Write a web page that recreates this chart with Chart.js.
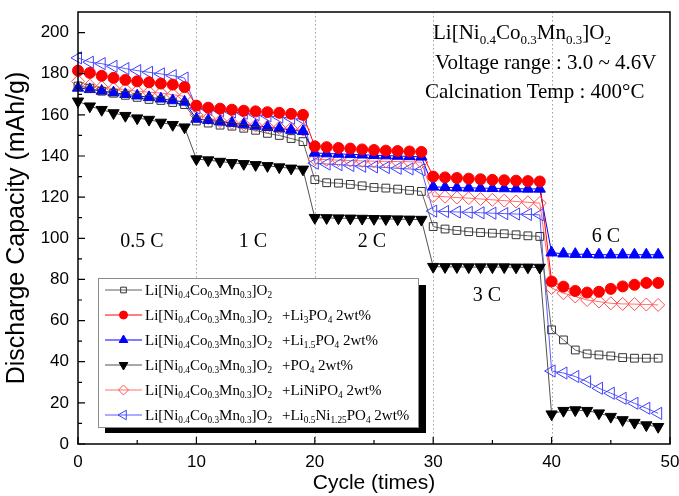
<!DOCTYPE html>
<html>
<head>
<meta charset="utf-8">
<script src="https://cdn.jsdelivr.net/npm/chart.js@4.4.0/dist/chart.umd.min.js"></script>
<style>
  body { margin: 0; background: #fff; }
  #wrap { position: relative; width: 679px; height: 496px; }
  #wrap canvas { position: absolute; left: 0; top: 0; }
  .note { position: absolute; font-family: "Liberation Serif", "Times New Roman", serif; color: #000; white-space: nowrap; }
  .note sub { font-size: 0.62em; vertical-align: -0.35em; line-height: 0; }
  .info { font-size: 21px; }
  .rate { font-size: 20px; transform: translate(-50%, -50%); }
  .leg { font-size: 15px; height: 20px; line-height: 20px; left: 145px; }
  .leg .pre { display: inline-block; width: 137px; }
</style>
</head>
<body>
<div id="wrap">
  <canvas id="chart" width="679" height="496"></canvas>

  <div class="note info" style="left:433px; top:20px;">Li[Ni<sub>0.4</sub>Co<sub>0.3</sub>Mn<sub>0.3</sub>]O<sub>2</sub></div>
  <div class="note info" style="left:435px; top:50px;">Voltage range : 3.0 ~ 4.6V</div>
  <div class="note info" style="left:425px; top:79px;">Calcination Temp : 400°C</div>

  <div class="note rate" style="left:142px; top:240px;">0.5 C</div>
  <div class="note rate" style="left:253px; top:240px;">1 C</div>
  <div class="note rate" style="left:372px; top:240px;">2 C</div>
  <div class="note rate" style="left:487px; top:294px;">3 C</div>
  <div class="note rate" style="left:606px; top:235px;">6 C</div>

  <div id="legend"></div>
</div>

<script>
// cycle number (x) for every point
const cycles = [
  0, 1, 2, 3, 4, 5, 6, 7, 8, 9,
  10, 11, 12, 13, 14, 15, 16, 17, 18, 19,
  20, 21, 22, 23, 24, 25, 26, 27, 28, 29,
  30, 31, 32, 33, 34, 35, 36, 37, 38, 39,
  40, 41, 42, 43, 44, 45, 46, 47, 48, 49
];

// discharge capacity, mAh/g
const pristine = [
  174, 173, 171.5, 170.5, 169.5, 168.5, 167.5, 167, 166, 165,
  157, 156, 155, 154.5, 153.5, 152.5, 151, 150, 148.5, 147,
  128.5, 127, 126.8, 126.2, 125.5, 124.7, 124.4, 123.9, 123.3, 122.8,
  105.7, 104.5, 103.8, 103.2, 102.8, 102.5, 102.2, 101.7, 101.2, 100.9,
  55.5, 50.6, 45.7, 43.8, 43.3, 42.8, 42, 41.7, 41.7, 41.7
];
const li3po4 = [
  181.5, 180.4, 179, 178, 177, 176.3, 175.8, 175.2, 174.7, 173.5,
  164.5, 163.5, 163, 162.5, 162, 161.7, 161.3, 161, 160.5, 160,
  144.7, 144.3, 143.9, 143.6, 143.2, 142.9, 142.6, 142.4, 142.2, 142,
  130, 129.6, 129.3, 129, 128.7, 128.4, 128.2, 128, 127.8, 127.6,
  79, 76.5, 74.4, 73.6, 74, 75.4, 76.6, 77.4, 78.3, 78.3
];
const li15po4 = [
  173.1, 172.4, 171.6, 170.8, 170, 169.3, 168.5, 167.8, 167, 166.3,
  158, 157.4, 156.7, 156, 155.3, 154.6, 154, 153.3, 152.6, 152,
  141.5, 141.2, 141, 140.8, 140.6, 140.4, 140.2, 140, 139.8, 139.6,
  125, 124.8, 124.6, 124.5, 124.4, 124.3, 124.2, 124.1, 124, 124,
  93, 92.5, 92.3, 92.2, 92, 92, 92, 92, 92, 92
];
const po4 = [
  166.6, 164.2, 162.5, 160.9, 159.6, 158.4, 157.7, 156.3, 155.2, 154,
  138.5, 138, 137.3, 136.7, 136.2, 135.7, 135.2, 134.6, 134, 133.5,
  110, 109.9, 109.8, 109.7, 109.6, 109.5, 109.4, 109.3, 109.2, 109.1,
  86.2, 86.1, 86.1, 86, 86, 86, 86, 85.9, 85.9, 85.8,
  14.5, 16.2, 16.5, 16.2, 15, 13.3, 11.7, 10.4, 9.2, 8.4
];
const linipo4 = [
  176.3, 174.2, 173.5, 172.7, 172.3, 171.4, 171, 170.6, 169.8, 169,
  160, 158.4, 157, 156.1, 155.3, 154.8, 154.2, 153.7, 153.3, 152.8,
  138.5, 138.2, 138, 137.8, 137.6, 137.5, 137.4, 137.3, 137.2, 137,
  120.5, 120.2, 119.8, 119.5, 119.1, 118.7, 118.3, 117.9, 117.5, 117.1,
  75.8, 73.3, 71.7, 70, 69.2, 68.4, 68.1, 68, 67.8, 67.6
];
const li05ni125po4 = [
  187.7, 185.6, 184.9, 183.6, 182.5, 181.5, 180.7, 179.9, 179.1, 177.9,
  163.3, 162.7, 162, 161.4, 160.8, 160.1, 159.5, 158.9, 158.3, 157.7,
  136.5, 136.1, 135.8, 135.4, 135, 134.7, 134.4, 134, 133.7, 133.3,
  113.2, 113, 112.8, 112.6, 112.4, 112.2, 112, 111.8, 111.6, 111.4,
  35.5, 34.5, 32.8, 30.3, 27.1, 24.7, 22.2, 19.8, 17.4, 14.9
];

const rateBreaks = [10, 20, 30, 40];
const xTicks = [0, 10, 20, 30, 40, 50];
const yTicks = [0, 20, 40, 60, 80, 100, 120, 140, 160, 180, 200];

const base = 'Li[Ni<sub>0.4</sub>Co<sub>0.3</sub>Mn<sub>0.3</sub>]O<sub>2</sub>';
const additives = [
  '',
  '+Li<sub>3</sub>PO<sub>4</sub> 2wt%',
  '+Li<sub>1.5</sub>PO<sub>4</sub> 2wt%',
  '+PO<sub>4</sub> 2wt%',
  '+LiNiPO<sub>4</sub> 2wt%',
  '+Li<sub>0.5</sub>Ni<sub>1.25</sub>PO<sub>4</sub> 2wt%'
];

const series = [
  { values: pristine, line: '#606060', mark: '#333', fill: 'transparent', style: 'rect', r: 5.5, rot: 0 },
  { values: li3po4, line: '#ff0000', mark: '#ff0000', fill: '#ff0000', style: 'circle', r: 5.5, rot: 0 },
  { values: li15po4, line: '#0000ff', mark: '#0000ff', fill: '#0000ff', style: 'triangle', r: 6.5, rot: 0 },
  { values: po4, line: '#505050', mark: '#000', fill: '#000', style: 'triangle', r: 6.5, rot: 180 },
  { values: linipo4, line: '#ff7070', mark: '#ff5050', fill: 'transparent', style: 'rectRot', r: 6.5, rot: 0 },
  { values: li05ni125po4, line: '#5a5aff', mark: '#4040ff', fill: 'transparent', style: 'triangle', r: 7, rot: 270 }
];

function drawMarker(ctx, s, x, y, r) {
  ctx.save();
  ctx.translate(x, y);
  ctx.rotate(s.rot * Math.PI / 180);
  ctx.beginPath();
  if (s.style === 'circle') {
    ctx.arc(0, 0, r, 0, Math.PI * 2);
  } else if (s.style === 'rect') {
    const h = r * Math.SQRT1_2;
    ctx.rect(-h, -h, 2 * h, 2 * h);
  } else if (s.style === 'rectRot') {
    ctx.moveTo(0, -r); ctx.lineTo(r, 0); ctx.lineTo(0, r); ctx.lineTo(-r, 0); ctx.closePath();
  } else {
    ctx.moveTo(0, -r);
    ctx.lineTo(r * Math.sin(Math.PI / 3), r / 2);
    ctx.lineTo(-r * Math.sin(Math.PI / 3), r / 2);
    ctx.closePath();
  }
  ctx.fillStyle = s.fill;
  ctx.strokeStyle = s.mark;
  ctx.lineWidth = 1;
  ctx.fill();
  ctx.stroke();
  ctx.restore();
}

// legend text
const legendEl = document.getElementById('legend');
additives.forEach((a, i) => {
  const d = document.createElement('div');
  d.className = 'note leg';
  d.style.top = (280 + i * 25) + 'px';
  d.innerHTML = '<span class="pre">' + base + '</span>' + a;
  legendEl.appendChild(d);
});

const framePlugin = {
  id: 'frame',
  beforeDatasetsDraw(chart) {
    const { ctx, chartArea: a, scales: { x } } = chart;
    ctx.save();
    ctx.strokeStyle = '#a0a0a0';
    ctx.lineWidth = 1;
    ctx.setLineDash([1.5, 2.5]);
    rateBreaks.forEach(v => {
      const px = Math.round(x.getPixelForValue(v)) + 0.5;
      ctx.beginPath(); ctx.moveTo(px, a.top); ctx.lineTo(px, a.bottom); ctx.stroke();
    });
    ctx.restore();
  },
  afterDraw(chart) {
    const { ctx, chartArea: a, scales: { x, y } } = chart;
    ctx.save();
    ctx.strokeStyle = '#000';
    ctx.lineWidth = 1.5;
    ctx.strokeRect(a.left, a.top, a.right - a.left, a.bottom - a.top);

    // inward ticks
    ctx.lineWidth = 1.2;
    ctx.beginPath();
    for (let v = 0; v <= 50; v += 5) {
      const px = x.getPixelForValue(v);
      ctx.moveTo(px, a.bottom); ctx.lineTo(px, a.bottom - (v % 10 === 0 ? 7 : 4));
    }
    for (let v = 0; v <= 200; v += 10) {
      const py = y.getPixelForValue(v);
      ctx.moveTo(a.left, py); ctx.lineTo(a.left + (v % 20 === 0 ? 7 : 4), py);
    }
    ctx.stroke();

    // legend box with shadow
    ctx.fillStyle = '#000';
    ctx.fillRect(105, 285, 321, 148);
    ctx.fillStyle = '#fff';
    ctx.fillRect(98, 278, 320, 149);
    ctx.strokeStyle = '#8a8a8a';
    ctx.lineWidth = 1;
    ctx.strokeRect(98.5, 278.5, 320, 149);

    series.forEach((s, i) => {
      const ly = 290 + i * 25;
      ctx.strokeStyle = s.line;
      ctx.lineWidth = 1;
      ctx.beginPath(); ctx.moveTo(105, ly); ctx.lineTo(142, ly); ctx.stroke();
      drawMarker(ctx, s, 123.5, ly, s.r - 1.5);
    });
    ctx.restore();
  }
};

const markerPlugin = {
  id: 'markers',
  afterDatasetsDraw(chart) {
    const ctx = chart.ctx;
    for (let i = series.length - 1; i >= 0; i--) {
      const meta = chart.getDatasetMeta(i);
      meta.data.forEach(pt => drawMarker(ctx, series[i], pt.x, pt.y, series[i].r));
    }
  }
};

const tickFont = { family: '"Liberation Sans", Arial, sans-serif', size: 17 };

new Chart(document.getElementById('chart'), {
  type: 'line',
  data: {
    datasets: series.map(s => ({
      data: cycles.map((c, i) => ({ x: c, y: s.values[i] })),
      borderColor: s.line,
      borderWidth: 1,
      pointRadius: 0,
      tension: 0,
      fill: false
    }))
  },
  options: {
    responsive: false,
    animation: false,
    layout: { padding: { top: 12, right: 9, left: 0, bottom: 0 } },
    plugins: { legend: { display: false }, tooltip: { enabled: false } },
    scales: {
      x: {
        type: 'linear',
        min: 0, max: 50,
        afterFit: s => { s.height = 52; s.paddingLeft = 0; s.paddingRight = 0; },
        afterBuildTicks: s => { s.ticks = xTicks.map(v => ({ value: v })); },
        grid: { display: false, drawTicks: false },
        border: { display: false },
        ticks: { font: tickFont, color: '#000', padding: 8, maxRotation: 0 },
        title: { display: true, text: 'Cycle (times)', color: '#000',
                 font: { family: '"Liberation Sans", Arial, sans-serif', size: 21 }, padding: { top: 0, bottom: 0 } }
      },
      y: {
        min: 0, max: 210,
        afterFit: s => { s.width = 78; s.paddingTop = 0; s.paddingBottom = 0; },
        afterBuildTicks: s => { s.ticks = yTicks.map(v => ({ value: v })); },
        grid: { display: false, drawTicks: false },
        border: { display: false },
        ticks: { font: tickFont, color: '#000', padding: 9 },
        title: { display: true, text: 'Discharge Capacity (mAh/g)', color: '#000',
                 font: { family: '"Liberation Sans", Arial, sans-serif', size: 25 }, padding: { top: 2, bottom: 0 } }
      }
    }
  },
  plugins: [framePlugin, markerPlugin]
});
</script>
</body>
</html>
